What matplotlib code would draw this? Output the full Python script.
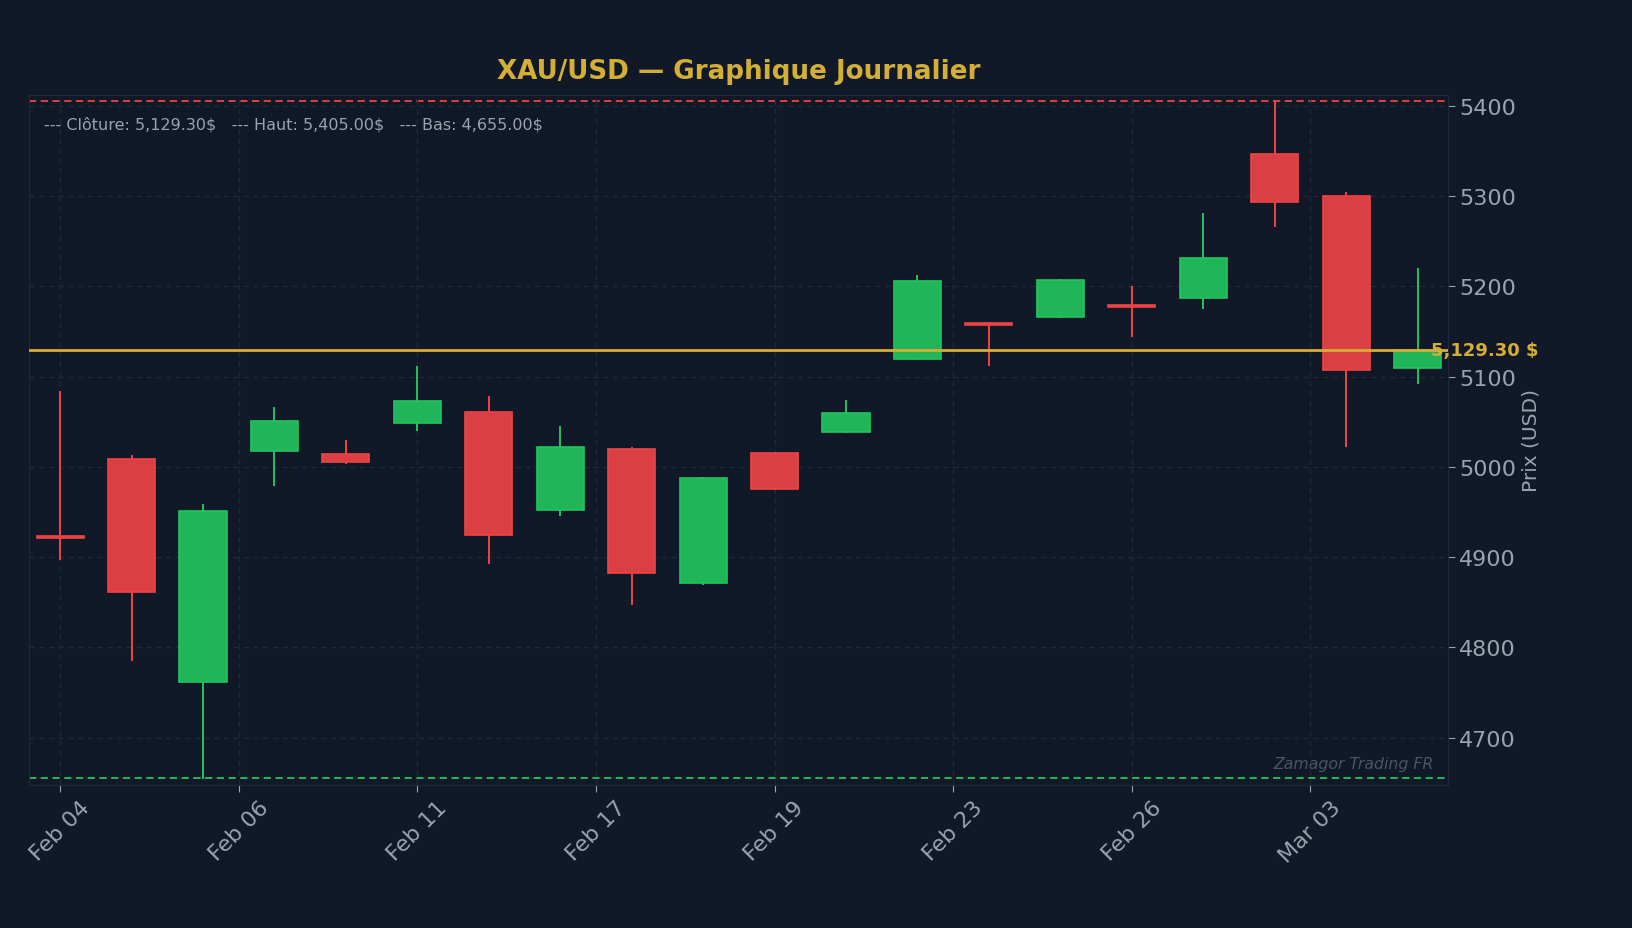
import matplotlib
matplotlib.use('Agg')
import matplotlib.pyplot as plt
from matplotlib.patches import Rectangle
from matplotlib.ticker import MaxNLocator, FuncFormatter, MultipleLocator
import matplotlib.transforms as mtransforms

BG = '#111827'
GRID = '#1f2937'
TXT = '#9ca3af'
GOLD = '#d4af37'
RED = '#ef4444'
GREEN = '#22c55e'

dates = ['Feb 04', 'Feb 05', 'Feb 06', 'Feb 09', 'Feb 10', 'Feb 11', 'Feb 12',
         'Feb 13', 'Feb 17', 'Feb 18', 'Feb 19', 'Feb 20', 'Feb 23', 'Feb 24',
         'Feb 25', 'Feb 26', 'Feb 27', 'Mar 02', 'Mar 03', 'Mar 04']
opens = [4923, 5009, 4762, 5018, 5014, 5049, 5061, 4952, 5020, 4871,
         5015, 5039, 5120, 5160, 5166, 5178, 5187, 5347, 5300, 5110]
highs = [5083, 5012, 4958, 5065, 5029, 5111, 5078, 5044, 5021, 4988,
         5015, 5073, 5211, 5160, 5207, 5199, 5280, 5405, 5303, 5219]
lows = [4898, 4786, 4655, 4980, 5004, 5041, 4893, 4947, 4848, 4870,
        4976, 5039, 5120, 5113, 5166, 5145, 5176, 5267, 5023, 5093]
closes = [4921, 4861, 4951, 5051, 5005, 5073, 4924, 5022, 4882, 4988,
          4976, 5060, 5206, 5157, 5207, 5177, 5231, 5294, 5107, 5129.30]

last_close = closes[-1]
top = max(highs)
bottom = min(lows)


def fmt_usd(v):
    return f'{v:,.2f}'


fig = plt.figure(figsize=(16.32, 9.29), dpi=100, facecolor=BG)
ax = fig.add_axes([0.018, 0.154, 0.869, 0.743], facecolor=BG)

width = 0.66
for i in range(len(dates)):
    o, h, l, c = opens[i], highs[i], lows[i], closes[i]
    up = c >= o
    col = GREEN if up else RED
    face = '#21b55a' if up else '#da4043'
    ax.plot([i, i], [l, h], color=col, lw=1.4, zorder=2)
    y0 = min(o, c)
    hgt = max(abs(c - o), 2.5)
    ax.add_patch(Rectangle((i - width / 2, y0), width, hgt, facecolor=face,
                           edgecolor=col, lw=1.2, zorder=3))

ax.axhline(top, color=RED, ls='--', lw=1.3, dashes=(4, 2.5), zorder=1)
ax.axhline(bottom, color=GREEN, ls='--', lw=1.3, dashes=(4, 2.5), zorder=1)
ax.axhline(last_close, color=GOLD, lw=2, zorder=4)

span = top - bottom
ax.set_xlim(-0.43, len(dates) - 0.58)
ax.set_ylim(bottom - 0.01 * span, top + 0.01 * span)

ax.xaxis.set_major_locator(MaxNLocator(nbins=8))
ax.xaxis.set_major_formatter(FuncFormatter(
    lambda x, pos: dates[int(round(x))] if 0 <= round(x) < len(dates) else ''))
ax.yaxis.set_major_locator(MultipleLocator(100))
ax.yaxis.tick_right()
ax.yaxis.set_label_position('right')
ax.set_ylabel('Prix (USD)', color=TXT, fontsize=14.5)
ax.tick_params(colors=TXT, labelsize=16, length=5)
ax.tick_params(axis='x', labelrotation=45)
ax.grid(True, color=GRID, ls='--', lw=1, dashes=(4, 3))
for s in ax.spines.values():
    s.set_color(GRID)

ax.set_title('XAU/USD — Graphique Journalier', color=GOLD, fontsize=18.8,
             fontweight='bold', pad=12)

info = (f'--- Clôture: {fmt_usd(last_close)}$   --- Haut: {fmt_usd(top)}$   '
        f'--- Bas: {fmt_usd(bottom)}$')
ax.text(0.01, 0.958, info, transform=ax.transAxes, color=TXT, fontsize=11.5,
        va='center', ha='left')

trans = mtransforms.blended_transform_factory(ax.transAxes, ax.transData)
ax.text(0.988, last_close, f'{fmt_usd(last_close)} $', transform=trans,
        color=GOLD, fontsize=13, fontweight='bold', va='center', ha='left',
        clip_on=False, zorder=5)

ax.text(0.99, 0.02, 'Zamagor Trading FR', transform=ax.transAxes,
        color='#4b5563', fontsize=11.3, style='italic', ha='right',
        va='bottom')

fig.savefig('out.png', dpi=100, facecolor=BG)
